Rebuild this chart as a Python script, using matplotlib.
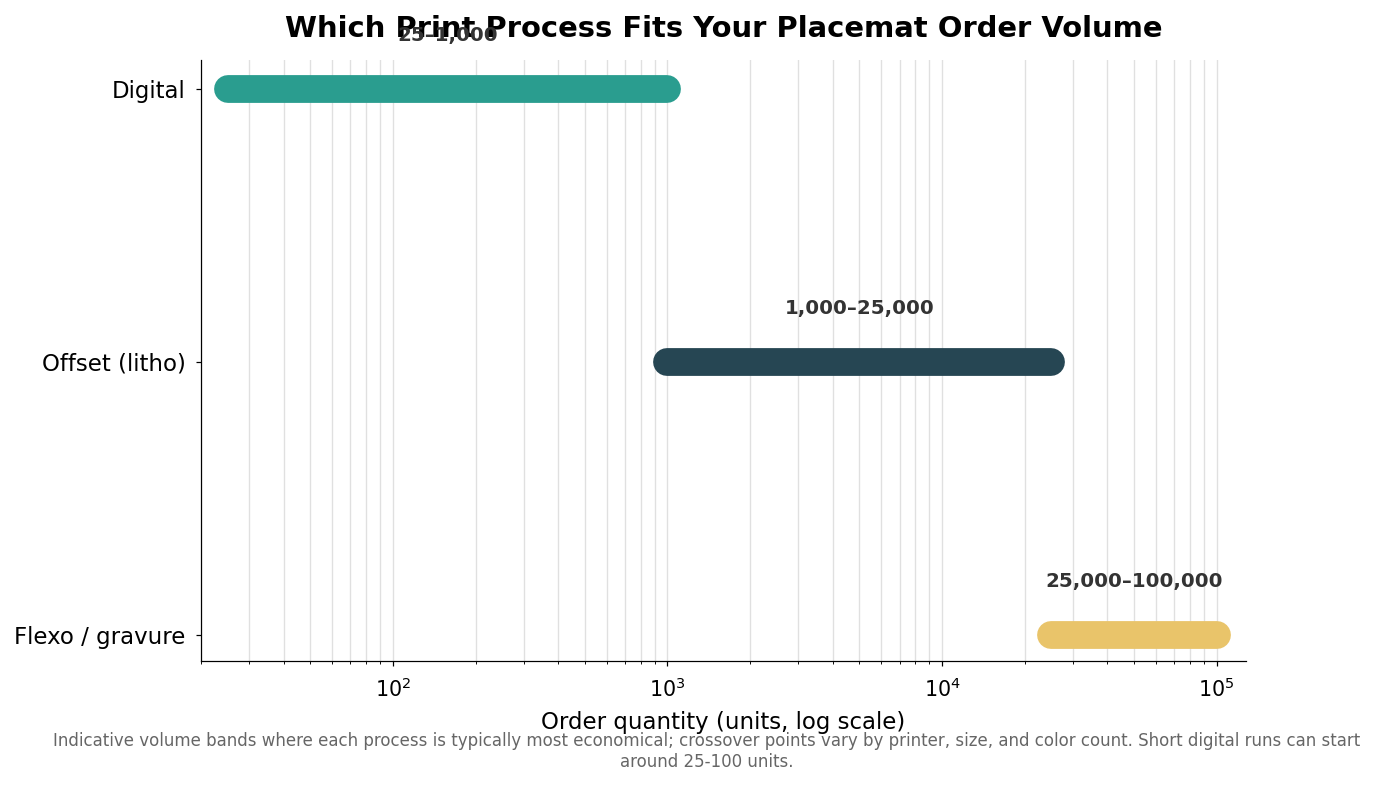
import numpy as np
import matplotlib.pyplot as plt
from matplotlib.ticker import LogLocator

# data
processes = ["Digital", "Offset (litho)", "Flexo / gravure"]
low = [25, 1000, 25000]
high = [1000, 25000, 100000]
labels = ["25\u20131,000", "1,000\u201325,000", "25,000\u2013100,000"]
colors = ["#2a9d8f", "#264653", "#e9c46a"]

fig = plt.figure(figsize=(12.5, 7.1364), dpi=110)
ax = fig.add_axes([0.1462, 0.158, 0.76, 0.7656])

for i, (lo, hi, lab, c) in enumerate(zip(low, high, labels, colors)):
    ax.plot([lo, hi], [i, i], color=c, linewidth=18.2, solid_capstyle="round", zorder=3)
    mid = np.sqrt(lo * hi)
    ax.text(mid, i - 0.195, lab, ha="center", va="center", fontsize=13,
            fontweight="bold", color="#333333", zorder=4)

ax.set_xscale("log")
ax.set_xlim(20, 1.28e5)
ax.set_ylim(2.095, -0.105)
ax.set_yticks(range(len(processes)))
ax.set_yticklabels(processes, fontsize=15)
ax.tick_params(axis="y", pad=6.5)
ax.tick_params(axis="x", labelsize=13.5, pad=7.5)
ax.xaxis.set_minor_locator(LogLocator(base=10, subs=np.arange(2, 10)))
ax.grid(True, which="both", axis="x", color="#e0e0e0", linewidth=0.9, zorder=0)
ax.set_axisbelow(True)
for s in ["top", "right"]:
    ax.spines[s].set_visible(False)

ax.set_xlabel("Order quantity (units, log scale)", fontsize=15, labelpad=6.5)
ax.set_title("Which Print Process Fits Your Placemat Order Volume",
             fontsize=19, fontweight="bold", pad=15)

fig.text(0.514, 0.043,
         "Indicative volume bands where each process is typically most economical; crossover points vary by printer, size, and color count. Short digital runs can start\naround 25-100 units.",
         ha="center", va="center", fontsize=10.85, color="#666666")

fig.savefig("out.png", dpi=110)
